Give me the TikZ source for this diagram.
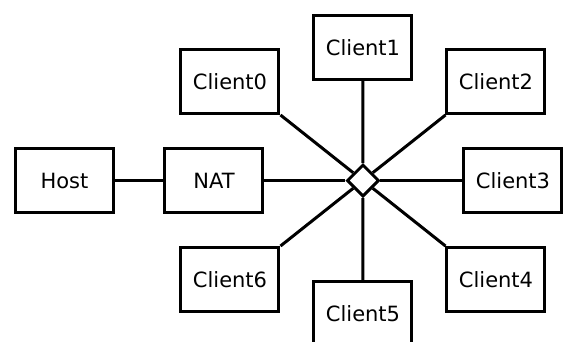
\documentclass[tikz,border=0pt]{standalone}
\usepackage{fontspec}
\setmainfont{DejaVu Sans}
\usepackage{tikz}
\usetikzlibrary{positioning, shapes}

\begin{document}
\begin{tikzpicture}[x=1pt,y=1pt,
  box/.style={draw,rectangle,line width=3pt,minimum width=98pt,minimum height=64pt,font=\fontsize{21}{25}\selectfont},
  link/.style={line width=3pt}]
\useasboundingbox (-363,-160.5) rectangle (203,180.5);
\node[box] (host) at (-298.5,0) {Host};
\node[box] (nat) at (-149,0) {NAT};
\node[box] (client0) at (-133,99) {Client0};
\node[box] (client1) at (0,133) {Client1};
\node[box] (client2) at (133,99) {Client2};
\node[box] (client3) at (150,0) {Client3};
\node[box] (client4) at (133,-99) {Client4};
\node[box] (client5) at (0,-133) {Client5};
\node[box] (client6) at (-133,-99) {Client6};
\node[draw,diamond,fill=white,line width=3pt,inner sep=0pt,minimum width=32pt,minimum height=32pt] (hub) at (0,0) {};

\path[link,draw] (host)--(nat) (nat)--(hub) (client3.west)--(hub);
\path[link,draw] (client0.south east)--(hub) (client1)--(hub) (client2.south west)--(hub);
\path[link,draw] (client6.north east)--(hub) (client5)--(hub) (client4.north west)--(hub);
\end{tikzpicture}
\end{document}
